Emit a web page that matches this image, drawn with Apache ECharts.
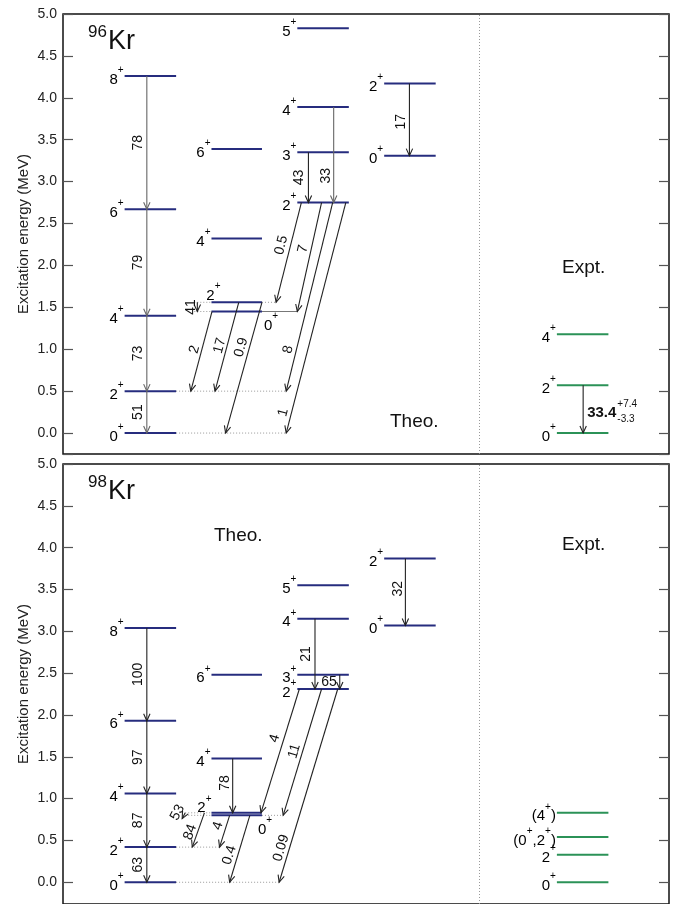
<!DOCTYPE html>
<html>
<head>
<meta charset="utf-8">
<script src="https://cdn.jsdelivr.net/npm/echarts@6/dist/echarts.min.js"></script>
<style>
html, body { margin: 0; padding: 0; background: #fff; }
#chart { width: 683px; height: 904px; }
</style>
</head>
<body>
<div id="chart"></div>
<script>
var FONT = '"Liberation Sans", Arial, Helvetica, sans-serif';
var NAVY = '#262c7e';
var GREEN = '#2b9257';

// ---------- data ----------
// levels: [column, spin, energy in MeV]  (columns 0-3 theory, 4 experiment)
var kr96Levels = [
    [0, '8+', 4.26], [0, '6+', 2.67], [0, '4+', 1.40], [0, '2+', 0.50], [0, '0+', 0.00],
    [1, '6+', 3.39], [1, '4+', 2.32], [1, '2+', 1.56], [1, '0+', 1.45],
    [2, '5+', 4.83], [2, '4+', 3.89], [2, '3+', 3.35], [2, '2+', 2.75],
    [3, '2+', 4.17], [3, '0+', 3.31],
    [4, '4+', 1.18], [4, '2+', 0.57], [4, '0+', 0.00]
];
// transitions: [initial energy, final energy, B(E2) label]
var kr96Trans = [
    [4.26, 2.67, '78'], [2.67, 1.40, '79'], [1.40, 0.50, '73'], [0.50, 0.00, '51'],
    [3.35, 2.75, '43'], [3.89, 2.75, '33'], [4.17, 3.31, '17'],
    [2.75, 1.56, '0.5'], [2.75, 1.45, '7'], [2.75, 0.50, '8'], [2.75, 0.00, '1'],
    [1.45, 0.50, '2'], [1.56, 0.50, '17'], [1.56, 0.00, '0.9'], [1.56, 1.45, '41'],
    [0.57, 0.00, '33.4']
];
var kr96Err = ['+7.4', '-3.3'];

var kr98Levels = [
    [0, '8+', 3.04], [0, '6+', 1.93], [0, '4+', 1.06], [0, '2+', 0.42], [0, '0+', 0.00],
    [1, '6+', 2.48], [1, '4+', 1.48], [1, '2+', 0.83], [1, '0+', 0.80],
    [2, '5+', 3.55], [2, '4+', 3.15], [2, '3+', 2.48], [2, '2+', 2.31],
    [3, '2+', 3.87], [3, '0+', 3.07],
    [4, '(4+)', 0.83], [4, '(0+,2+)', 0.54], [4, '2+', 0.33], [4, '0+', 0.00]
];
var kr98Trans = [
    [3.04, 1.93, '100'], [1.93, 1.06, '97'], [1.06, 0.42, '87'], [0.42, 0.00, '63'],
    [1.48, 0.83, '78'], [3.15, 2.31, '21'], [2.48, 2.31, '65'], [3.87, 3.07, '32'],
    [2.31, 0.83, '4'], [2.31, 0.80, '11'], [2.31, 0.00, '0.09'],
    [0.83, 0.76, '53'], [0.83, 0.42, '84'], [0.80, 0.42, '4'], [0.80, 0.00, '0.4']
];

// ---------- layout (horizontal axis runs 0..60) ----------
var colX = [[6.1, 11.2], [14.7, 19.7], [23.2, 28.3], [31.8, 36.9], [48.9, 54.0]];
var divider = 41.2;
// spin label placement overrides: index -> [mode, dx px, dy px]
var kr96LabelPos = { 7: ['above', 9, -10], 8: ['below', 2, 11] };
var kr98LabelPos = { 7: ['above', 0, -8], 8: ['below', -4, 11] };
// per transition: [x start, x end, label position along arrow, label offset px, grey, mode]
var kr96TransX = [
    [8.3, 8.3, 0.5, 9, 1], [8.3, 8.3, 0.5, 9, 1], [8.3, 8.3, 0.5, 9, 1], [8.3, 8.3, 0.5, 9, 1],
    [24.3, 24.3, 0.5, 9, 0], [26.8, 26.8, 0.72, 8, 1], [34.3, 34.3, 0.53, 8, 0],
    [23.6, 21.1, 0.45, 9, 0], [25.6, 23.2, 0.44, 8, 0], [26.7, 22.1, 0.79, 8, 0], [28.0, 22.1, 0.92, 8, 0],
    [14.75, 12.65, 0.5, 7, 0], [17.4, 15.05, 0.51, 7, 0], [19.7, 16.1, 0.36, 8, 0], [13.3, 13.3, 0.5, 6, 0],
    [51.5, 51.5, 0.57, 4, 0, 'err']
];
var kr98TransX = [
    [8.3, 8.3, 0.5, 9, 0], [8.3, 8.3, 0.5, 9, 0], [8.3, 8.3, 0.5, 9, 0], [8.3, 8.3, 0.5, 9, 0],
    [16.8, 16.8, 0.45, 8, 0], [24.95, 24.95, 0.5, 9, 0], [27.4, 27.4, 0.5, 3, 0, 'h'], [33.9, 33.9, 0.45, 7, 0],
    [23.4, 19.6, 0.42, 9, 0], [25.6, 21.8, 0.51, 8, 0], [27.2, 21.4, 0.835, 8, 0],
    [12.1, 11.8, 0.5, 7, 0], [14.0, 12.8, 0.63, 7, 0], [16.5, 15.5, 0.41, 8, 0], [18.5, 16.5, 0.63, 8, 0]
];
// dotted guide lines: [x start, x end, energy, solid]
var kr96Guides = [
    [11.2, 22.1, 0.50], [11.2, 22.1, 0.00], [19.7, 21.1, 1.56], [19.7, 23.2, 1.45, 1],
    [13.0, 14.7, 1.56], [13.0, 14.7, 1.45]
];
var kr98Guides = [
    [11.2, 15.5, 0.42], [11.2, 21.4, 0.00], [19.7, 21.8, 0.80],
    [12.1, 14.7, 0.83], [12.1, 14.7, 0.80]
];

function supText(s) {
    return s.split('+').map(function (p) { return p ? '{n|' + p + '}' : ''; }).join('{s|+}');
}

var spinRich = {
    n: { fontSize: 15, fontFamily: FONT, color: '#111', verticalAlign: 'bottom', lineHeight: 22 },
    s: { fontSize: 10, fontFamily: FONT, color: '#111', verticalAlign: 'top', lineHeight: 22 }
};

var measureCtx = document.createElement('canvas').getContext('2d');

function panelSeries(g, levels, labelPos, trans, transX, guides, err) {
    var guideSeries = {
        type: 'custom', xAxisIndex: g, yAxisIndex: g * 2, silent: true, z: 2,
        data: guides.map(function (d) { return [d[0], d[2]]; }),
        renderItem: function (params, api) {
            var d = guides[params.dataIndex];
            var a = api.coord([d[0], d[2]]), b = api.coord([d[1], d[2]]);
            return {
                type: 'line', shape: { x1: a[0], y1: a[1], x2: b[0], y2: b[1] },
                style: d[3] ? { stroke: '#777', lineWidth: 1.2 }
                             : { stroke: '#999', lineWidth: 1, lineDash: [1, 2] }
            };
        },
        markLine: {
            silent: true, symbol: 'none', label: { show: false },
            lineStyle: { type: [1, 2], color: '#999', width: 1 },
            data: [{ xAxis: divider }]
        }
    };
    var levelSeries = {
        type: 'custom', xAxisIndex: g, yAxisIndex: g * 2, silent: true, z: 3,
        data: levels.map(function (l) { return [colX[l[0]][0], l[2]]; }),
        renderItem: function (params, api) {
            var l = levels[params.dataIndex];
            var p0 = api.coord([colX[l[0]][0], l[2]]);
            var p1 = api.coord([colX[l[0]][1], l[2]]);
            var pos = labelPos[params.dataIndex];
            var tx = p0[0] - 1, ty = p0[1], align = 'right';
            if (pos && pos[0] === 'above') { tx = p0[0] + pos[1]; ty = p0[1] + pos[2]; }
            if (pos && pos[0] === 'below') { tx = p1[0] + pos[1]; ty = p1[1] + pos[2]; align = 'left'; }
            return {
                type: 'group', children: [
                    { type: 'line', shape: { x1: p0[0], y1: p0[1], x2: p1[0], y2: p1[1] },
                      style: { stroke: l[0] === 4 ? GREEN : NAVY, lineWidth: 2 } },
                    { type: 'text', x: tx, y: ty,
                      style: { text: supText(l[1]), rich: spinRich, align: align, verticalAlign: 'middle' } }
                ]
            };
        }
    };
    var transSeries = {
        type: 'custom', xAxisIndex: g, yAxisIndex: g * 2, silent: true, z: 4,
        data: trans.map(function (t, i) { return [transX[i][0], t[0]]; }),
        renderItem: function (params, api) {
            var tr = trans[params.dataIndex], lay = transX[params.dataIndex];
            var a = api.coord([lay[0], tr[0]]), b = api.coord([lay[1], tr[1]]);
            var dx = b[0] - a[0], dy = b[1] - a[1];
            var len = Math.sqrt(dx * dx + dy * dy);
            var ux = dx / len, uy = dy / len;
            var h = 7, w = 3.2;
            var color = lay[4] ? '#666' : '#222';
            var children = [
                { type: 'line', shape: { x1: a[0], y1: a[1], x2: b[0], y2: b[1] },
                  style: { stroke: color, lineWidth: 1.1 } },
                { type: 'polyline', shape: { points: [
                    [b[0] - ux * h - uy * w, b[1] - uy * h + ux * w],
                    [b[0], b[1]],
                    [b[0] - ux * h + uy * w, b[1] - uy * h - ux * w]] },
                  style: { stroke: color, lineWidth: 1.1, fill: null } }
            ];
            var mx = a[0] + dx * lay[2], my = a[1] + dy * lay[2];
            var nx = -uy, ny = ux;
            var mode = lay[5];
            if (mode === 'err') {
                var f = 'bold 15px ' + FONT;
                measureCtx.font = f;
                var lx = mx + lay[3];
                var wd = measureCtx.measureText(tr[2]).width;
                children.push({ type: 'text', x: lx, y: my,
                    style: { text: tr[2], font: f, fill: '#111', align: 'left', verticalAlign: 'middle' } });
                children.push({ type: 'text', x: lx + wd + 1, y: my - 8,
                    style: { text: err[0], fontSize: 10, fontFamily: FONT, fill: '#111', align: 'left', verticalAlign: 'middle' } });
                children.push({ type: 'text', x: lx + wd + 1, y: my + 7,
                    style: { text: err[1], fontSize: 10, fontFamily: FONT, fill: '#111', align: 'left', verticalAlign: 'middle' } });
            } else {
                var rot = mode === 'h' ? 0 : Math.atan2(uy, -ux);
                children.push({ type: 'text', x: mx + nx * lay[3], y: my + ny * lay[3], rotation: rot,
                    style: { text: tr[2], fontSize: 14, fontFamily: FONT, fill: '#111',
                             align: mode === 'h' ? 'right' : 'center', verticalAlign: 'middle' } });
            }
            return { type: 'group', children: children };
        }
    };
    return [guideSeries, levelSeries, transSeries];
}

function yAxes(g) {
    var common = {
        type: 'value', gridIndex: g, min: g ? -0.26 : -0.25, max: 5, splitNumber: 10,
        splitLine: { show: false }, axisLine: { show: false },
        axisTick: { inside: true, length: 10, lineStyle: { color: '#555', width: 1.2 } }
    };
    return [
        Object.assign({}, common, {
            position: 'left', name: 'Excitation energy (MeV)', nameLocation: 'middle', nameGap: 32,
            nameMoveOverlap: false,
            nameTextStyle: { fontSize: 15, fontFamily: FONT, color: '#222' },
            axisLabel: { fontSize: 14, fontFamily: FONT, color: '#222', margin: 6,
                formatter: function (v) { return v < -0.001 ? '' : v.toFixed(1); } }
        }),
        Object.assign({}, common, { position: 'right', axisLabel: { show: false } })
    ];
}

function xAxis(g) {
    return { type: 'value', gridIndex: g, min: 0, max: 60, show: false };
}

function nucleus(mass, top) {
    return [
        { type: 'text', left: 88, top: top + 10, style: { text: mass, fontSize: 17, fontFamily: FONT, fill: '#111' } },
        { type: 'text', left: 108, top: top + 14, style: { text: 'Kr', fontSize: 27, fontFamily: FONT, fill: '#111' } }
    ];
}

var chart = echarts.init(document.getElementById('chart'));

var option = {
    animation: false,
    backgroundColor: '#fff',
    grid: [
        { left: 63, top: 14, width: 606, height: 440, show: true, borderColor: '#111', borderWidth: 1.5, backgroundColor: 'transparent' },
        { left: 63, top: 464, width: 606, height: 442, show: true, borderColor: '#111', borderWidth: 1.5, backgroundColor: 'transparent' }
    ],
    xAxis: [xAxis(0), xAxis(1)],
    yAxis: yAxes(0).concat(yAxes(1)),
    graphic: nucleus('96', 14).concat(nucleus('98', 464)).concat([
        { type: 'text', left: 390, top: 412, style: { text: 'Theo.', fontSize: 19, fontFamily: FONT, fill: '#111' } },
        { type: 'text', left: 562, top: 258, style: { text: 'Expt.', fontSize: 19, fontFamily: FONT, fill: '#111' } },
        { type: 'text', left: 214, top: 526, style: { text: 'Theo.', fontSize: 19, fontFamily: FONT, fill: '#111' } },
        { type: 'text', left: 562, top: 535, style: { text: 'Expt.', fontSize: 19, fontFamily: FONT, fill: '#111' } }
    ]),
    series: panelSeries(0, kr96Levels, kr96LabelPos, kr96Trans, kr96TransX, kr96Guides, kr96Err)
        .concat(panelSeries(1, kr98Levels, kr98LabelPos, kr98Trans, kr98TransX, kr98Guides, null))
};
chart.setOption(option);
</script>
</body>
</html>
